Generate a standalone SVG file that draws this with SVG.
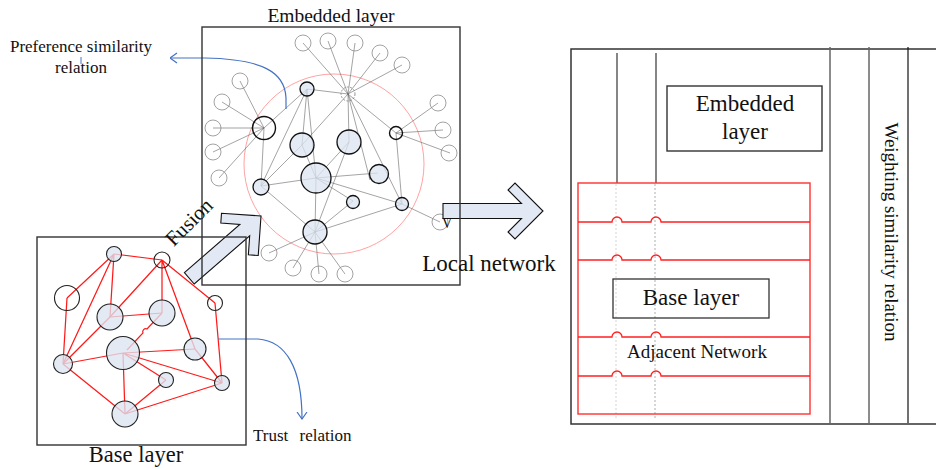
<svg xmlns="http://www.w3.org/2000/svg" width="936" height="470" viewBox="0 0 936 470">
  <style>
    text { font-family: "Liberation Serif", "Times New Roman", serif; fill: #111; }
    .box { fill: none; stroke: #333; stroke-width: 1.4; }
    .emb-line { stroke: #666; stroke-width: 0.6; fill: none; }
    .outer { fill: #fff; fill-opacity: 0; stroke: #8a8a8a; stroke-width: 0.8; }
    .hub { fill: none; stroke: #777; stroke-width: 0.8; stroke-dasharray: 2 1.5; }
    .fill-node { fill: #dce4f1; fill-opacity: 0.75; stroke: #111; stroke-width: 1.3; }
    .ring-node { fill: none; stroke: #111; stroke-width: 1.4; }
    .red-edge { stroke: #ff1a1a; stroke-width: 1.25; fill: none; }
    .base-fill { fill: #dce4f1; fill-opacity: 0.78; stroke: #222; stroke-width: 1.1; }
    .base-ring { fill: none; stroke: #222; stroke-width: 1.1; }
    .blue { stroke: #4472c4; stroke-width: 1.2; fill: none; }
    .block-arrow { fill: #e3e9f4; stroke: #111; stroke-width: 1.1; stroke-linejoin: miter; }
    .red-row { stroke: #ff2020; stroke-width: 1.3; fill: none; }
    .guide { stroke-width: 0.8; stroke-dasharray: 2 2; }
  </style>
  <defs>
    <marker id="open-head" viewBox="0 0 8 12" refX="7.5" refY="6" markerWidth="8" markerHeight="12" orient="auto" markerUnits="userSpaceOnUse">
      <path d="M0.5,1 L7.5,6 L0.5,11" fill="none" stroke="#4472c4" stroke-width="1.2"/>
    </marker>
  </defs>

  <rect width="936" height="470" fill="#fff"/>

  <!-- ===== Embedded layer ===== -->
  <circle cx="334" cy="164" r="90" fill="none" stroke="#ff8a8a" stroke-width="0.8"/>

  <g id="connectors">
    <g id="embedded-edges" class="emb-line">
      <!-- hub spokes -->
      <path d="M348,94 L303,43 M348,94 L328,41 M348,94 L355,43 M348,94 L380,53 M348,94 L402,65"/>
      <path d="M348,94 L307,89 M348,94 L396,133 M348,94 L349,142 M348,94 L302,145 M348,94 L402,204 M348,94 L370,180"/>
      <!-- left ring node spokes -->
      <path d="M264,128 L240,81 M264,128 L222,102 M264,128 L213,128 M264,128 L213,152 M264,128 L219,178"/>
      <path d="M264,128 L307,89 M264,128 L261,186"/>
      <!-- upper small node -->
      <path d="M307,89 L302,145 M307,89 L316,178 M307,89 L261,186"/>
      <!-- left filled node -->
      <path d="M261,186 L302,145 M261,186 L316,178 M261,186 L315,232"/>
      <!-- central node -->
      <path d="M316,178 L378,173 M316,178 L402,204 M316,178 L353,201 M316,178 L315,232 M316,178 L349,142 M316,178 L302,145"/>
      <!-- lower node -->
      <path d="M315,232 L353,201 M315,232 L402,204 M315,232 L349,142 M315,232 L269,253 M315,232 L293,268 M315,232 L319,274 M315,232 L345,274"/>
      <!-- right nodes -->
      <path d="M402,204 L440,222 M402,204 L396,133"/>
      <path d="M396,133 L438,103 M396,133 L443,130 M396,133 L450,153"/>
    </g>
    <g id="base-edges" class="red-edge">
      <path d="M114,254 L162,260 M114,254 L67,298 M114,254 L110,317 M114,254 L63,364"/>
      <path d="M162,260 L162,313 M162,260 L215,303 M162,260 L195,349 M162,260 L110,317"/>
      <path d="M67,298 L63,364 M63,364 L110,317 M110,317 L162,313"/>
      <path d="M162,313 L147,329 A3,3 0 0 0 143,333 L127,350"/>
      <path d="M215,303 L222,383 M123,353 L195,349 M63,364 L123,353 M123,353 L166,380 M123,353 L222,383 M123,353 L125,414"/>
      <path d="M195,349 L222,383 M63,364 L125,414 M125,414 L166,380 M125,414 L222,383"/>
    </g>
    <g id="relation-curves">
      <path class="blue" d="M286,109 L286,98 C285,72 262,59 205,58 L170,58" marker-end="url(#open-head)"/>
      <path class="blue" d="M218,339 L258,339 C286,341 302,368 302,419" marker-end="url(#open-head)"/>
      <line x1="81" y1="57" x2="81" y2="64" stroke="#4472c4" stroke-width="1"/>
    </g>
  </g>

  <g id="embedded-nodes">
    <g id="e-outer">
      <circle class="outer" cx="303" cy="43" r="8"/>
      <circle class="outer" cx="328" cy="41" r="8"/>
      <circle class="outer" cx="355" cy="43" r="8"/>
      <circle class="outer" cx="380" cy="53" r="8"/>
      <circle class="outer" cx="402" cy="65" r="8"/>
      <circle class="outer" cx="240" cy="81" r="8"/>
      <circle class="outer" cx="222" cy="102" r="8"/>
      <circle class="outer" cx="213" cy="128" r="8"/>
      <circle class="outer" cx="213" cy="152" r="8"/>
      <circle class="outer" cx="219" cy="178" r="8"/>
      <circle class="outer" cx="438" cy="103" r="8"/>
      <circle class="outer" cx="443" cy="130" r="8"/>
      <circle class="outer" cx="449" cy="153" r="8"/>
      <circle class="outer" cx="440" cy="222" r="8"/>
      <circle class="outer" cx="269" cy="253" r="8"/>
      <circle class="outer" cx="293" cy="268" r="8"/>
      <circle class="outer" cx="319" cy="274" r="8"/>
      <circle class="outer" cx="345" cy="274" r="8"/>
    </g>
    <g id="e-hub"><circle class="hub" cx="348" cy="94" r="7"/></g>
    <g id="e-left"><circle class="ring-node" cx="264" cy="128" r="11.5"/></g>
    <g id="e-right"><circle class="ring-node" cx="396" cy="133" r="6.5"/></g>
    <g id="e-top"><circle class="fill-node" cx="307" cy="89" r="7"/></g>
    <g id="e-a"><circle class="fill-node" cx="302" cy="145" r="12"/></g>
    <g id="e-b"><circle class="fill-node" cx="349" cy="142" r="12"/></g>
    <g id="e-center"><circle class="fill-node" cx="316" cy="178" r="15"/></g>
    <g id="e-c"><circle class="fill-node" cx="379" cy="174" r="9.5"/></g>
    <g id="e-d"><circle class="fill-node" cx="261" cy="187" r="8"/></g>
    <g id="e-e"><circle class="fill-node" cx="353" cy="202" r="6.5"/></g>
    <g id="e-f"><circle class="fill-node" cx="402" cy="204" r="6.5"/></g>
    <g id="e-g"><circle class="fill-node" cx="315" cy="232" r="12"/></g>
  </g>
  <text x="442" y="228" font-size="14">V</text>

  <!-- ===== Base layer ===== -->
  <g id="base-nodes">
    <g id="b-a"><circle class="base-fill" cx="114" cy="254" r="7.5"/></g>
    <g id="b-b"><circle class="base-ring" cx="162" cy="260" r="8"/></g>
    <g id="b-c"><circle class="base-ring" cx="67" cy="298" r="12.5"/></g>
    <g id="b-d"><circle class="base-fill" cx="110" cy="317" r="13"/></g>
    <g id="b-e"><circle class="base-fill" cx="162" cy="313" r="13"/></g>
    <g id="b-f"><circle class="base-ring" cx="215" cy="303" r="7.5"/></g>
    <g id="b-g"><circle class="base-fill" cx="123" cy="353" r="16.5"/></g>
    <g id="b-h"><circle class="base-fill" cx="195" cy="349" r="11"/></g>
    <g id="b-i"><circle class="base-fill" cx="63" cy="364" r="9.5"/></g>
    <g id="b-j"><circle class="base-fill" cx="166" cy="380" r="7.5"/></g>
    <g id="b-k"><circle class="base-fill" cx="222" cy="383" r="7.5"/></g>
    <g id="b-l"><circle class="base-fill" cx="125" cy="414" r="13"/></g>
  </g>

  <!-- ===== Block arrows ===== -->
  <g id="fusion-arrow">
    <path class="block-arrow" transform="translate(261,216) rotate(-41)" d="M-95,-7.5 H-21.5 L-35,-21 L-28,-28 L0,0 L-28,28 L-35,21 L-21.5,7.5 H-95 Z"/>
  </g>
  <g id="local-arrow">
    <path class="block-arrow" transform="translate(543,211)" d="M-100,-7.5 H-21.5 L-35,-21 L-28,-28 L0,0 L-28,28 L-35,21 L-21.5,7.5 H-100 Z"/>
  </g>

  <!-- frames -->
  <rect class="box" x="202" y="27" width="258" height="258"/>
  <rect class="box" x="37" y="237" width="209" height="208"/>

  <!-- labels -->
  <text x="331" y="22" font-size="19.5" text-anchor="middle">Embedded layer</text>
  <text x="136" y="462" font-size="22.5" text-anchor="middle">Base layer</text>
  <text x="81" y="52" font-size="17" text-anchor="middle">Preference similarity</text>
  <text x="81" y="73" font-size="17" text-anchor="middle">relation</text>
  <text x="253" y="441" font-size="17" word-spacing="7">Trust relation</text>
  <text x="194" y="227" font-size="21" text-anchor="middle" transform="rotate(-45 194 227)">Fusion</text>
  <text x="489" y="271" font-size="23" text-anchor="middle">Local network</text>

  <!-- ===== Local network panel ===== -->
  <g id="panel">
    <path d="M936,49 H571 V424 H936" fill="none" stroke="#333" stroke-width="1.5"/>
    <line x1="830" y1="47" x2="830" y2="423" stroke="#666" stroke-width="1.5"/>
    <line x1="869" y1="47" x2="869" y2="423" stroke="#666" stroke-width="1.5"/>
    <line x1="908" y1="47" x2="908" y2="423" stroke="#111" stroke-width="1.2"/>
    <line x1="617" y1="53" x2="617" y2="183" stroke="#222" stroke-width="1.1"/>
    <line x1="656" y1="53" x2="656" y2="183" stroke="#222" stroke-width="1.1"/>
  </g>
  <g id="panel-embedded">
    <rect class="box" x="667" y="86" width="155" height="65" stroke-width="1.3"/>
    <text x="745" y="111" font-size="23" text-anchor="middle">Embedded</text>
    <text x="745" y="139" font-size="23" text-anchor="middle">layer</text>
  </g>
  <g id="adjacent-network">
    <line class="guide" x1="616" y1="184" x2="616" y2="420" stroke="#c8c8c8"/>
    <line class="guide" x1="655" y1="184" x2="655" y2="420" stroke="#999"/>
    <rect x="578" y="183" width="232" height="231" fill="none" stroke="#ff3030" stroke-width="1.4"/>
    <path class="red-row" d="M578,222 H612 A5,5 0 0 1 622,222 H651 A5,5 0 0 1 661,222 H810"/>
    <path class="red-row" d="M578,260 H612 A5,5 0 0 1 622,260 H651 A5,5 0 0 1 661,260 H810"/>
    <path class="red-row" d="M578,337 H612 A5,5 0 0 1 622,337 H651 A5,5 0 0 1 661,337 H810"/>
    <path class="red-row" d="M578,376 H612 A5,5 0 0 1 622,376 H651 A5,5 0 0 1 661,376 H810"/>
    <text x="697" y="358" font-size="19" text-anchor="middle">Adjacent Network</text>
  </g>
  <g id="panel-base">
    <rect x="613" y="279" width="156" height="39" fill="none" stroke="#333" stroke-width="1.3"/>
    <text x="691" y="305" font-size="23" text-anchor="middle">Base layer</text>
  </g>
  <text x="885" y="232" font-size="19" text-anchor="middle" transform="rotate(90 885 232)">Weighting similarity relation</text>
</svg>
